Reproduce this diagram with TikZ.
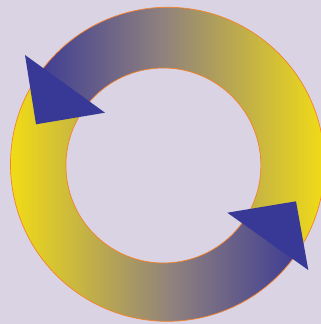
\documentclass[tikz,border=0pt]{standalone}
\usetikzlibrary{calc}
\definecolor{bgcol}{RGB}{217,211,227}
\definecolor{ringblue}{RGB}{62,60,148}
\definecolor{ringgray}{RGB}{142,128,126}
\definecolor{ringyellow}{RGB}{254,232,8}
\definecolor{ringorange}{RGB}{245,130,40}
\definecolor{arrowblue}{RGB}{56,56,150}
\pgfdeclarehorizontalshading{topshade}{100bp}{color(0bp)=(ringblue); color(25bp)=(ringblue); color(45bp)=(ringgray); color(75bp)=(ringyellow); color(100bp)=(ringyellow)}
\pgfdeclarehorizontalshading{botshade}{100bp}{color(0bp)=(ringyellow); color(25bp)=(ringyellow); color(55bp)=(ringgray); color(75bp)=(ringblue); color(100bp)=(ringblue)}
\tikzset{
  ringpart/.style={draw=ringorange, line width=0.7pt},
  arrowhead/.style={fill=arrowblue, draw=none}
}
\begin{document}
\begin{tikzpicture}[x=1pt,y=1pt]
\useasboundingbox (0,0) rectangle (321,324);
\fill[bgcol] (0,0) rectangle (321,324);
\coordinate (co) at (167.5,159.7);
\coordinate (ci) at (163.4,158.5);
% top arc: blue (left) to yellow (right)
\shadedraw[ringpart, shading=topshade]
  ([shift={(-34:157)}]co) arc[start angle=-34, end angle=146, radius=157]
  -- ([shift={(146:97.5)}]ci) arc[start angle=146, end angle=-34, radius=97.5]
  -- cycle;
% bottom arc: yellow (left) to blue (right)
\shadedraw[ringpart, shading=botshade]
  ([shift={(146:157)}]co) arc[start angle=146, end angle=326, radius=157]
  -- ([shift={(326:97.5)}]ci) arc[start angle=326, end angle=146, radius=97.5]
  -- cycle;
% arrowheads
\coordinate (ta1) at (25,269);
\coordinate (ta2) at (36,199.7);
\coordinate (ta3) at (105,211.3);
\coordinate (ba1) at (227.3,111.3);
\coordinate (ba2) at (296,122.7);
\coordinate (ba3) at (308.3,54);
\fill[arrowhead] (ta1) -- (ta2) -- (ta3) -- cycle;
\fill[arrowhead] (ba1) -- (ba2) -- (ba3) -- cycle;
\end{tikzpicture}
\end{document}
